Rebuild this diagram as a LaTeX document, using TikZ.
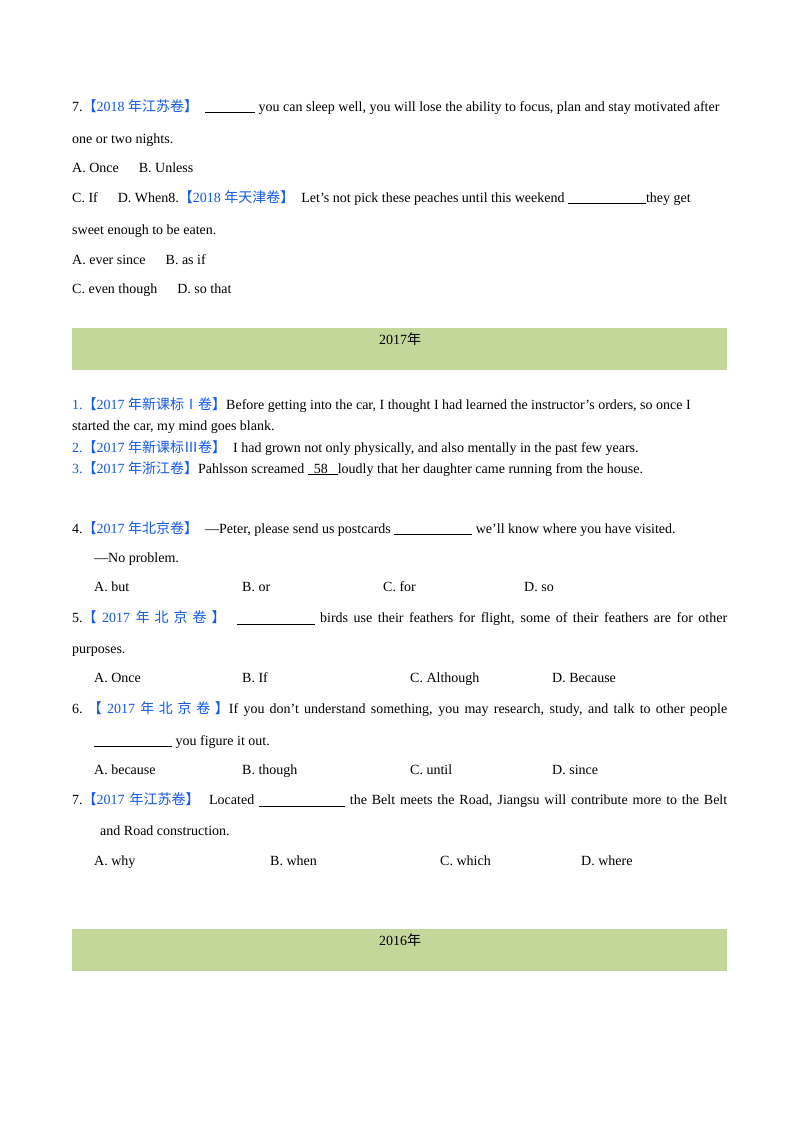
\documentclass[tikz,border=0pt]{standalone}
\usepackage{fontspec}
\setmainfont{Liberation Serif}
\newfontfamily\cjk{Noto Sans CJK SC}
\definecolor{qblue}{RGB}{20,90,230}
\definecolor{bar}{RGB}{196,215,155}
\newcommand{\bk}[1]{\textcolor{qblue}{#1}}
\newcommand{\blank}[1]{\underline{\hspace{#1}}}
\newcommand{\jl}[1]{\parbox{655pt}{\parfillskip=0pt\noindent #1}}
\tikzset{t/.style={anchor=base west,inner sep=0pt,font=\fontsize{14pt}{16pt}\selectfont}}
\begin{document}
\begin{tikzpicture}[x=1pt,y=-1pt]
\useasboundingbox[fill=white] (0,0) rectangle (800,1132);
\fill[bar] (72,328) rectangle (727,370);
\fill[bar] (72,929) rectangle (727,971);
\node[t,anchor=base] (h1) at (400,344) {2017{\cjk 年}};
\node[t,anchor=base] (h2) at (400,945) {2016{\cjk 年}};
\node[t] (a1) at (72,111) {7.\bk{{\cjk 【}2018 {\cjk 年江苏卷】}}\ \ \blank{50pt} you can sleep well, you will lose the ability to focus, plan and stay motivated after};
\node[t] (a2) at (72,143) {one or two nights.};
\node[t] (a3) at (72,172) {A. Once\hspace{20pt}B. Unless};
\node[t] (a4) at (72,202) {C. If\hspace{20pt}D. When8.\bk{{\cjk 【}2018 {\cjk 年天津卷】}}\ \ Let's not pick these peaches until this weekend \blank{78pt}they get};
\node[t] (a5) at (72,234) {sweet enough to be eaten.};
\node[t] (a6) at (72,264) {A. ever since\hspace{20pt}B. as if};
\node[t] (a7) at (72,293) {C. even though\hspace{20pt}D. so that};
\node[t] (b1) at (72,409) {\bk{1.{\cjk 【}2017 {\cjk 年新课标Ⅰ卷】}}Before getting into the car, I thought I had learned the instructor’s orders, so once I};
\node[t] (b2) at (72,430) {started the car, my mind goes blank.};
\node[t] (b3) at (72,452) {\bk{2.{\cjk 【}2017 {\cjk 年新课标Ⅲ卷】}}\ \ I had grown not only physically, and also mentally in the past few years.};
\node[t] (b4) at (72,473) {\bk{3.{\cjk 【}2017 {\cjk 年浙江卷】}}Pahlsson screamed \underline{\hspace{6pt}58\hspace{10pt}}loudly that her daughter came running from the house.};
\node[t] (c1) at (72,533) {4.\bk{{\cjk 【}2017 {\cjk 年北京卷】}}\ \ —Peter, please send us postcards \blank{78pt} we’ll know where you have visited.};
\node[t] (c2) at (94,562) {—No problem.};
\node[t] at (94,591) {A. but};\node[t] at (242,591) {B. or};\node[t] at (383,591) {C. for};\node[t] at (524,591) {D. so};
\node[t] (c3) at (72,622) {\jl{5.\bk{{\cjk 【} 2017 {\cjk 年 北 京 卷 】}}\ \ \blank{78pt} birds use their feathers for flight, some of their feathers are for other}};
\node[t] (c4) at (72,653) {purposes.};
\node[t] at (94,682) {A. Once};\node[t] at (242,682) {B. If};\node[t] at (410,682) {C. Although};\node[t] at (552,682) {D. Because};
\node[t] (c5) at (72,713) {\jl{6.\ \bk{{\cjk 【} 2017 {\cjk 年 北 京 卷 】}}If you don’t understand something, you may research, study, and talk to other people}};
\node[t] (c6) at (94,745) {\blank{78pt} you figure it out.};
\node[t] at (94,774) {A. because};\node[t] at (242,774) {B. though};\node[t] at (410,774) {C. until};\node[t] at (552,774) {D. since};
\node[t] (c7) at (72,804) {\jl{7.\bk{{\cjk 【}2017 {\cjk 年江苏卷】}}\ \ Located \blank{86pt} the Belt meets the Road, Jiangsu will contribute more to the Belt}};
\node[t] (c8) at (100,835) {and Road construction.};
\node[t] at (94,865) {A. why};\node[t] at (270,865) {B. when};\node[t] at (440,865) {C. which};\node[t] at (581,865) {D. where};
\end{tikzpicture}
\end{document}
